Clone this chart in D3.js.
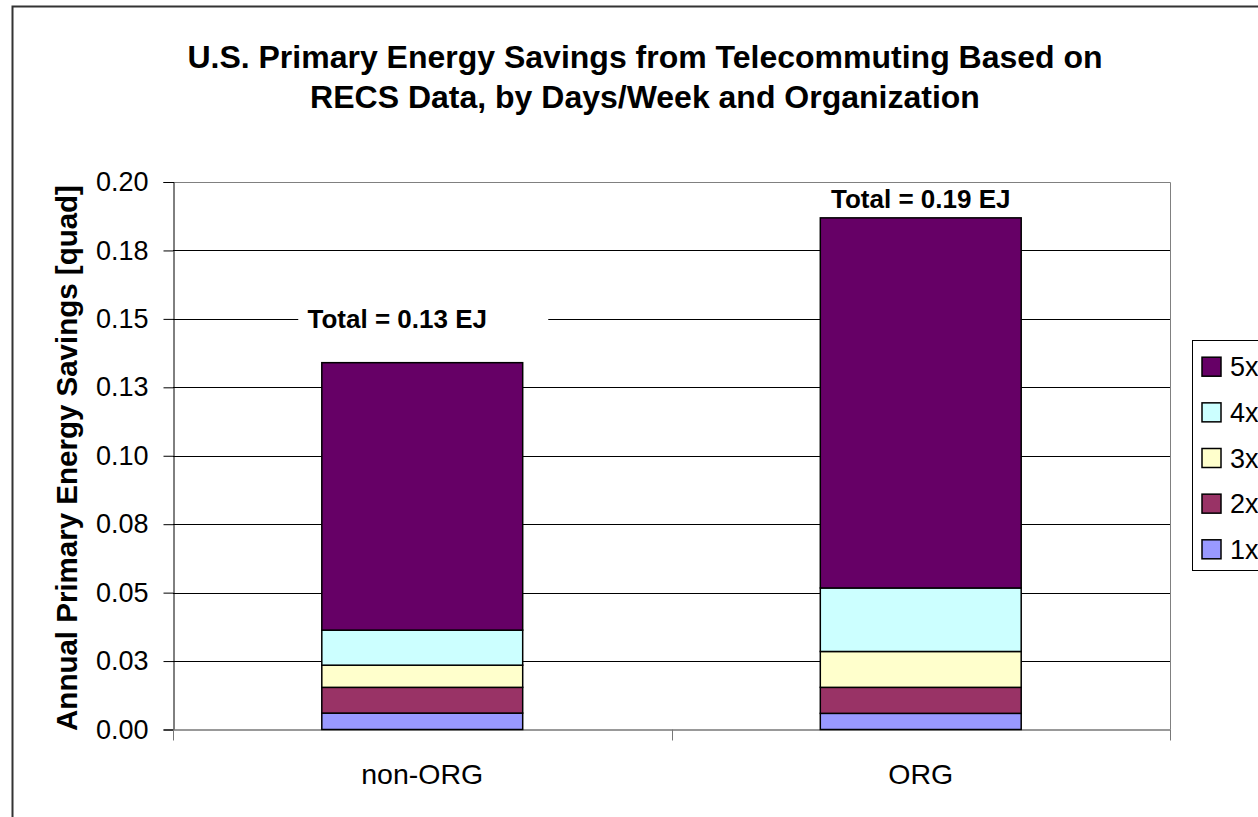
<!DOCTYPE html>
<html>
<head>
<meta charset="utf-8">
<script src="https://cdn.jsdelivr.net/npm/d3@7/dist/d3.min.js"></script>
<style>
  html, body { margin: 0; padding: 0; background: #fff; overflow: hidden; }
  svg { display: block; font-family: "Liberation Sans", Arial, sans-serif; }
</style>
</head>
<body>
<svg id="chart" width="1258" height="817"></svg>
<script>
// Categories (organization type) and telecommuting frequency series, in quad
const categories = ["non-ORG", "ORG"];
const seriesKeys = ["1x", "2x", "3x", "4x", "5x"];
const days1x = [0.0060, 0.0059];
const days2x = [0.0094, 0.0095];
const days3x = [0.0081, 0.0131];
const days4x = [0.0128, 0.0232];
const days5x = [0.0977, 0.1352];
const seriesColors = ["#9999FF", "#993366", "#FFFFCC", "#CCFFFF", "#660066"];
const legendOrder = ["5x", "4x", "3x", "2x", "1x"];
const yTickValues = [0, 0.025, 0.05, 0.075, 0.1, 0.125, 0.15, 0.175, 0.2];
const yTickLabels = ["0.00", "0.03", "0.05", "0.08", "0.10", "0.13", "0.15", "0.18", "0.20"];
const titleLines = [
  "U.S. Primary Energy Savings from Telecommuting Based on",
  "RECS Data, by Days/Week and Organization"
];
const yAxisTitle = "Annual Primary Energy Savings [quad]";

const seriesValues = { "1x": days1x, "2x": days2x, "3x": days3x, "4x": days4x, "5x": days5x };
const rows = categories.map((c, i) => {
  const r = { category: c };
  seriesKeys.forEach(k => { r[k] = seriesValues[k][i]; });
  return r;
});
const color = d3.scaleOrdinal().domain(seriesKeys).range(seriesColors);

const svg = d3.select("#chart");
const plot = { left: 173, right: 1170, top: 182, bottom: 729.5 };

const x = d3.scaleBand().domain(categories).range([plot.left, plot.right]).padding(0);
const y = d3.scaleLinear().domain([0, 0.2]).range([plot.bottom, plot.top]);
const barWidth = x.bandwidth() * 0.403;

// outer chart frame
svg.append("rect")
  .attr("x", 12.5).attr("y", 6.5).attr("width", 1300).attr("height", 900)
  .attr("fill", "#fff").attr("stroke", "#333").attr("stroke-width", 2);

// title
svg.append("text")
  .attr("text-anchor", "middle").attr("font-weight", "bold").attr("font-size", 32)
  .attr("fill", "#000")
  .selectAll("tspan").data(titleLines).join("tspan")
  .attr("x", 645).attr("y", (d, i) => 68 + i * 40).text(d => d);

// horizontal gridlines
svg.append("g")
  .selectAll("line").data(yTickValues.slice(1, -1)).join("line")
  .attr("x1", plot.left).attr("x2", plot.right)
  .attr("y1", d => Math.round(y(d)) + 0.5).attr("y2", d => Math.round(y(d)) + 0.5)
  .attr("stroke", "#000").attr("stroke-width", 1);

// plot area border (top and right)
svg.append("path")
  .attr("d", `M${plot.left},${Math.round(plot.top) + 0.5}H${plot.right + 0.5}V${plot.bottom}`)
  .attr("fill", "none").attr("stroke", "#808080").attr("stroke-width", 1);

// y axis
const yAxis = d3.axisLeft(y)
  .tickValues(yTickValues)
  .tickFormat((d, i) => yTickLabels[i])
  .tickSize(10).tickPadding(15);
const gy = svg.append("g").attr("transform", `translate(${plot.left + 0.5},0)`).call(yAxis);
gy.select(".domain").attr("stroke", "#000");
gy.selectAll(".tick line").attr("stroke", "#000");
gy.selectAll(".tick text")
  .attr("font-size", 27).attr("font-family", "Liberation Sans, Arial, sans-serif").attr("fill", "#000");

// x axis with category separators
const xAxis = d3.axisBottom(x).tickSize(0).tickPadding(0);
const gx = svg.append("g").attr("transform", `translate(0,${plot.bottom})`).call(xAxis);
gx.select(".domain").attr("stroke", "#777").attr("stroke-width", 1.5);
gx.selectAll(".tick text")
  .attr("font-size", 28.5).attr("font-family", "Liberation Sans, Arial, sans-serif")
  .attr("fill", "#000").attr("dy", 0).attr("y", 54);
const separators = [plot.left, x(categories[1]), plot.right];
gx.selectAll(".sep").data(separators).join("line").attr("class", "sep")
  .attr("x1", d => Math.round(d) + 0.5).attr("x2", d => Math.round(d) + 0.5)
  .attr("y1", 0).attr("y2", 11).attr("stroke", "#777").attr("stroke-width", 1);

// stacked bars
const stacked = d3.stack().keys(seriesKeys)(rows);
svg.append("g")
  .selectAll("g").data(stacked).join("g")
  .attr("fill", d => color(d.key))
  .selectAll("rect").data(d => d).join("rect")
  .attr("x", d => x(d.data.category) + (x.bandwidth() - barWidth) / 2)
  .attr("width", barWidth)
  .attr("y", d => y(d[1]))
  .attr("height", d => y(d[0]) - y(d[1]))
  .attr("stroke", "#000").attr("stroke-width", 1.5);

// total labels above each bar
const totals = rows.map(r => d3.sum(seriesKeys, k => r[k]));
const totalLabelOffsets = [{ dx: -25, dy: -35, box: true }, { dx: 0, dy: -10, box: false }];
const totalG = svg.append("g");
categories.forEach((c, i) => {
  const cx = x(c) + x.bandwidth() / 2 + totalLabelOffsets[i].dx;
  const by = y(totals[i]) + totalLabelOffsets[i].dy;
  if (totalLabelOffsets[i].box) {
    totalG.append("rect")
      .attr("x", cx - 99).attr("y", by - 22).attr("width", 250).attr("height", 30)
      .attr("fill", "#fff");
  }
  totalG.append("text")
    .attr("x", cx).attr("y", by)
    .attr("text-anchor", "middle").attr("font-weight", "bold").attr("font-size", 26)
    .attr("fill", "#000")
    .text(`Total = ${totals[i].toFixed(2)} EJ`);
});

// y axis title
svg.append("text")
  .attr("transform", `translate(77,458) rotate(-90)`)
  .attr("text-anchor", "middle").attr("font-weight", "bold").attr("font-size", 29.5)
  .attr("fill", "#000")
  .text(yAxisTitle);

// legend
const legend = svg.append("g");
legend.append("rect")
  .attr("x", 1192.5).attr("y", 340.5).attr("width", 120).attr("height", 230)
  .attr("fill", "#fff").attr("stroke", "#000").attr("stroke-width", 1);
const li = legend.selectAll("g.item").data(legendOrder).join("g").attr("class", "item")
  .attr("transform", (d, i) => `translate(0,${366.7 + i * 45.65})`);
li.append("rect")
  .attr("x", 1202).attr("y", -9.5).attr("width", 19).attr("height", 19)
  .attr("fill", d => color(d)).attr("stroke", "#000").attr("stroke-width", 1.5);
li.append("text")
  .attr("x", 1230).attr("y", 0).attr("dy", "0.36em")
  .attr("font-size", 27).attr("fill", "#000")
  .text(d => d);
</script>
</body>
</html>
